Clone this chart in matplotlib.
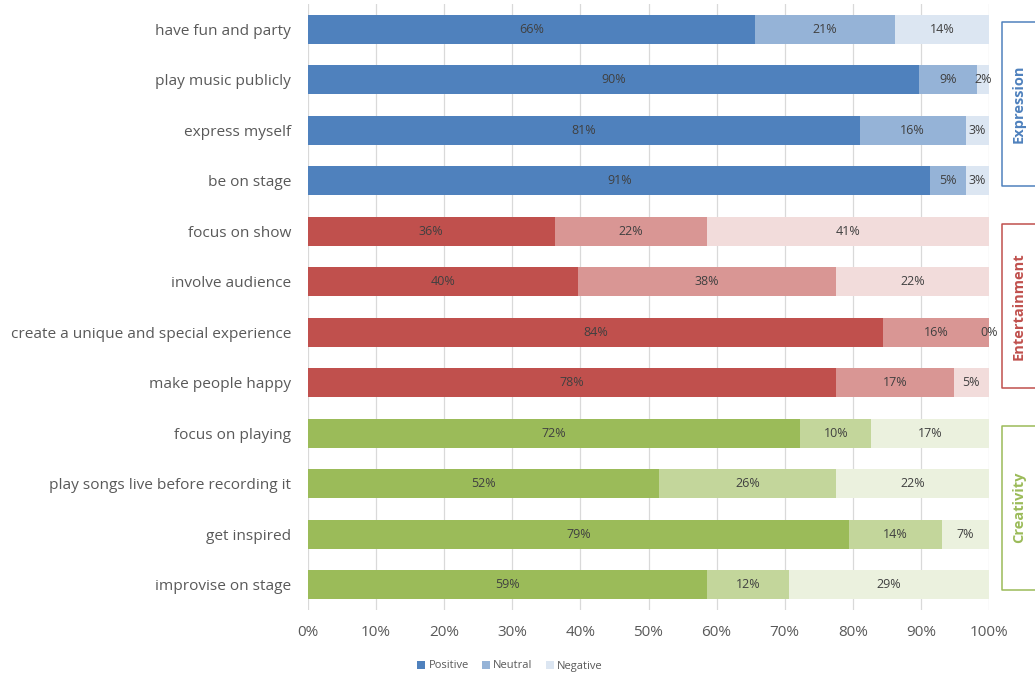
import matplotlib.pyplot as plt
import matplotlib.transforms as mtransforms
from matplotlib.lines import Line2D
from matplotlib.patches import Patch
import numpy as np

plt.rcParams["font.family"] = ["Open Sans", "DejaVu Sans"]

# Share of answers per statement (percent), top to bottom
statements = [
    "have fun and party",
    "play music publicly",
    "express myself",
    "be on stage",
    "focus on show",
    "involve audience",
    "create a unique and special experience",
    "make people happy",
    "focus on playing",
    "play songs live before recording it",
    "get inspired",
    "improvise on stage",
]
positive = [65.6, 89.7, 81.0, 91.4, 36.2, 39.6, 84.4, 77.6, 72.3, 51.6, 79.4, 58.6]
neutral = [20.6, 8.6, 15.6, 5.2, 22.4, 38.0, 15.6, 17.2, 10.4, 26.0, 13.7, 12.1]
negative = [13.8, 1.7, 3.4, 3.4, 41.4, 22.4, 0.0, 5.2, 17.3, 22.4, 6.9, 29.3]

groups = ["Expression", "Entertainment", "Creativity"]
group_sizes = [4, 4, 4]
series_names = ["Positive", "Neutral", "Negative"]

# dark / medium / light shade for each group
group_colors = {
    "Expression": ["#4F81BD", "#95B3D7", "#DCE6F2"],
    "Entertainment": ["#C0504D", "#D99694", "#F2DCDB"],
    "Creativity": ["#9BBB59", "#C3D69B", "#EBF1DE"],
}

fig = plt.figure(figsize=(10.35, 6.77), dpi=100)
ax = fig.add_axes([308 / 1035, 1 - 610 / 677, 681 / 1035, 606 / 677])

y = np.arange(len(statements))
row_group = np.repeat(groups, group_sizes)

pos = np.array(positive)
neu = np.array(neutral)
neg = np.array(negative)
lefts = [np.zeros_like(pos), pos, pos + neu]

for k, vals in enumerate([pos, neu, neg]):
    colors = [group_colors[g][k] for g in row_group]
    ax.barh(y, vals, left=lefts[k], height=0.57, color=colors, zorder=2)
    for yi, (v, l) in enumerate(zip(vals, lefts[k])):
        ax.text(l + v / 2, yi, f"{v:.0f}%", ha="center", va="center",
                fontsize=9, color="#404040", zorder=3)

ax.set_xlim(0, 100)
ax.set_ylim(len(statements) - 0.5, -0.5)
ax.set_xticks(np.arange(0, 101, 10))
ax.set_xticklabels([f"{t}%" for t in range(0, 101, 10)])
ax.set_yticks(y)
ax.set_yticklabels(statements)
ax.tick_params(axis="both", length=0, colors="#595959")
ax.tick_params(axis="x", labelsize=11, pad=11)
ax.tick_params(axis="y", labelsize=11.1, pad=12)
ax.grid(axis="x", color="#D9D9D9", linewidth=0.9, zorder=0)
ax.set_axisbelow(True)
for sp in ax.spines.values():
    sp.set_visible(False)

# group brackets on the right edge
trans = mtransforms.blended_transform_factory(fig.transFigure, ax.transData)
x_in, x_out = 1002 / 1035, 1.0
start = 0
for g, n in zip(groups, group_sizes):
    top = start - 0.15
    bottom = start + n - 1 + 0.1
    c = group_colors[g][0]
    line = Line2D([x_out, x_in, x_in, x_out], [top, top, bottom, bottom],
                  transform=trans, color=c, linewidth=1.1, clip_on=False)
    fig.add_artist(line)
    fig.text(1019 / 1035, (top + bottom) / 2, g, transform=trans, rotation=90,
             ha="center", va="center", fontsize=10.5, fontweight="bold", color=c)
    start += n

handles = [Patch(facecolor=c, edgecolor="none") for c in group_colors["Expression"]]
fig.legend(handles, series_names, loc="center", bbox_to_anchor=(510 / 1035, 1 - 666 / 677),
           ncol=3, frameon=False, fontsize=8, handlelength=0.7, handleheight=0.7,
           handletextpad=0.3, columnspacing=1.2, labelcolor="#595959")

fig.savefig("out.png", dpi=100)
